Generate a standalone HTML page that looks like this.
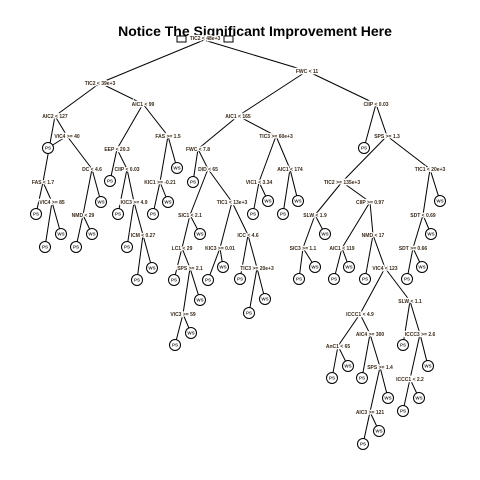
<!DOCTYPE html>
<html><head><meta charset="utf-8"><style>
html,body{margin:0;padding:0;background:#fff;width:480px;height:480px;overflow:hidden}
svg{display:block}
.l{stroke:#000;stroke-width:1;fill:none}
.t{font-family:"Liberation Sans",sans-serif;font-size:5px;font-weight:bold;fill:#3a2a1a;text-anchor:middle;stroke:#fff;stroke-width:2.5px;paint-order:stroke}
.c{fill:#fff;stroke:#000;stroke-width:1}
.lt{font-family:"Liberation Sans",sans-serif;font-size:4.5px;font-weight:bold;fill:#333;text-anchor:middle}
</style></head><body>
<svg width="480" height="480" viewBox="0 0 480 480" xmlns="http://www.w3.org/2000/svg">
<g class="l">
<line x1="204" y1="40" x2="100" y2="83"/><line x1="204" y1="40" x2="307" y2="71"/>
<line x1="100" y1="83" x2="55" y2="116"/><line x1="100" y1="83" x2="143" y2="104"/>
<line x1="55" y1="116" x2="43" y2="182"/><line x1="55" y1="116" x2="67" y2="136"/>
<line x1="43" y1="182" x2="36" y2="214"/><line x1="43" y1="182" x2="52" y2="202"/>
<line x1="52" y1="202" x2="45" y2="247"/><line x1="52" y1="202" x2="61" y2="234"/>
<line x1="67" y1="136" x2="48" y2="148"/><line x1="67" y1="136" x2="92" y2="169"/>
<line x1="92" y1="169" x2="83" y2="215"/><line x1="92" y1="169" x2="101" y2="202"/>
<line x1="83" y1="215" x2="76" y2="247"/><line x1="83" y1="215" x2="92" y2="234"/>
<line x1="143" y1="104" x2="117" y2="149"/><line x1="143" y1="104" x2="168" y2="136"/>
<line x1="117" y1="149" x2="110" y2="181"/><line x1="117" y1="149" x2="127" y2="169"/>
<line x1="127" y1="169" x2="118" y2="214"/><line x1="127" y1="169" x2="134" y2="202"/>
<line x1="134" y1="202" x2="127" y2="247"/><line x1="134" y1="202" x2="143" y2="235"/>
<line x1="143" y1="235" x2="137" y2="280"/><line x1="143" y1="235" x2="152" y2="268"/>
<line x1="168" y1="136" x2="160" y2="182"/><line x1="168" y1="136" x2="177" y2="168"/>
<line x1="160" y1="182" x2="153" y2="214"/><line x1="160" y1="182" x2="168" y2="202"/>
<line x1="307" y1="71" x2="238" y2="116"/><line x1="307" y1="71" x2="376" y2="104"/>
<line x1="238" y1="116" x2="198" y2="149"/><line x1="238" y1="116" x2="276" y2="136"/>
<line x1="198" y1="149" x2="193" y2="182"/><line x1="198" y1="149" x2="208" y2="169"/>
<line x1="208" y1="169" x2="190" y2="215"/><line x1="208" y1="169" x2="232" y2="202"/>
<line x1="190" y1="215" x2="182" y2="248"/><line x1="190" y1="215" x2="200" y2="234"/>
<line x1="182" y1="248" x2="174" y2="280"/><line x1="182" y1="248" x2="190" y2="268"/>
<line x1="190" y1="268" x2="183" y2="314"/><line x1="190" y1="268" x2="200" y2="300"/>
<line x1="183" y1="314" x2="175" y2="345"/><line x1="183" y1="314" x2="191" y2="333"/>
<line x1="232" y1="202" x2="220" y2="248"/><line x1="232" y1="202" x2="248" y2="235"/>
<line x1="220" y1="248" x2="208" y2="280"/><line x1="220" y1="248" x2="223" y2="267"/>
<line x1="248" y1="235" x2="240" y2="279"/><line x1="248" y1="235" x2="257" y2="268"/>
<line x1="257" y1="268" x2="249" y2="313"/><line x1="257" y1="268" x2="265" y2="299"/>
<line x1="276" y1="136" x2="259" y2="182"/><line x1="276" y1="136" x2="290" y2="169"/>
<line x1="259" y1="182" x2="253" y2="214"/><line x1="259" y1="182" x2="268" y2="201"/>
<line x1="290" y1="169" x2="283" y2="214"/><line x1="290" y1="169" x2="298" y2="201"/>
<line x1="376" y1="104" x2="364" y2="148"/><line x1="376" y1="104" x2="387" y2="136"/>
<line x1="387" y1="136" x2="342" y2="182"/><line x1="387" y1="136" x2="430" y2="169"/>
<line x1="342" y1="182" x2="315" y2="215"/><line x1="342" y1="182" x2="370" y2="202"/>
<line x1="315" y1="215" x2="303" y2="248"/><line x1="315" y1="215" x2="325" y2="234"/>
<line x1="303" y1="248" x2="299" y2="279"/><line x1="303" y1="248" x2="315" y2="267"/>
<line x1="370" y1="202" x2="342" y2="248"/><line x1="370" y1="202" x2="373" y2="235"/>
<line x1="342" y1="248" x2="334" y2="279"/><line x1="342" y1="248" x2="349" y2="267"/>
<line x1="373" y1="235" x2="365" y2="279"/><line x1="373" y1="235" x2="385" y2="268"/>
<line x1="385" y1="268" x2="360" y2="314"/><line x1="385" y1="268" x2="410" y2="301"/>
<line x1="360" y1="314" x2="338" y2="346"/><line x1="360" y1="314" x2="370" y2="334"/>
<line x1="338" y1="346" x2="332" y2="378"/><line x1="338" y1="346" x2="348" y2="366"/>
<line x1="370" y1="334" x2="362" y2="378"/><line x1="370" y1="334" x2="380" y2="367"/>
<line x1="380" y1="367" x2="370" y2="412"/><line x1="380" y1="367" x2="388" y2="398"/>
<line x1="370" y1="412" x2="363" y2="444"/><line x1="370" y1="412" x2="379" y2="431"/>
<line x1="410" y1="301" x2="403" y2="345"/><line x1="410" y1="301" x2="420" y2="334"/>
<line x1="420" y1="334" x2="410" y2="379"/><line x1="420" y1="334" x2="428" y2="366"/>
<line x1="410" y1="379" x2="403" y2="411"/><line x1="410" y1="379" x2="419" y2="398"/>
<line x1="430" y1="169" x2="423" y2="215"/><line x1="430" y1="169" x2="440" y2="201"/>
<line x1="423" y1="215" x2="413" y2="248"/><line x1="423" y1="215" x2="431" y2="234"/>
<line x1="413" y1="248" x2="407" y2="279"/><line x1="413" y1="248" x2="422" y2="267"/>
</g>
<text x="255" y="36" font-family="Liberation Sans, sans-serif" font-size="14" font-weight="bold" text-anchor="middle" fill="#000">Notice The Significant Improvement Here</text>
<rect x="177" y="36" width="9" height="6" fill="#fff" stroke="#000"/>
<rect x="224" y="36" width="9" height="6" fill="#fff" stroke="#000"/>
<g class="t">
<text x="205" y="40">TIC2 &lt; 48e+3</text>
<text x="100" y="85">TIC2 &lt; 39e+3</text>
<text x="55" y="118">AIC2 &lt; 127</text>
<text x="43" y="184">FAS &lt; 1.7</text>
<text x="52" y="204">VIC4 &gt;= 85</text>
<text x="67" y="138">VIC4 &gt;= 40</text>
<text x="92" y="171">DC &lt; 4.6</text>
<text x="83" y="217">NMD &lt; 29</text>
<text x="143" y="106">AIC1 &lt; 99</text>
<text x="117" y="151">EEP &lt; 20.3</text>
<text x="127" y="171">CIIP &lt; 0.03</text>
<text x="134" y="204">KIC3 &gt;= 4.9</text>
<text x="143" y="237">ICM &lt; 0.27</text>
<text x="168" y="138">FAS &gt;= 1.5</text>
<text x="160" y="184">KIC1 &gt;= -0.21</text>
<text x="307" y="73">FWC &lt; 11</text>
<text x="238" y="118">AIC1 &lt; 165</text>
<text x="198" y="151">FWC &lt; 7.8</text>
<text x="208" y="171">DID &lt; 65</text>
<text x="190" y="217">SIC1 &lt; 2.1</text>
<text x="182" y="250">LC1 &lt; 29</text>
<text x="190" y="270">SPS &gt;= 2.1</text>
<text x="183" y="316">VIC3 &gt;= 59</text>
<text x="232" y="204">TIC1 &lt; 13e+3</text>
<text x="220" y="250">KIC3 &gt;= 0.01</text>
<text x="248" y="237">ICC &lt; 4.6</text>
<text x="257" y="270">TIC3 &gt;= 20e+3</text>
<text x="276" y="138">TIC3 &gt;= 60e+3</text>
<text x="259" y="184">VIC1 &lt; 3.34</text>
<text x="290" y="171">AIC1 &lt; 174</text>
<text x="376" y="106">CIIP &lt; 0.03</text>
<text x="387" y="138">SPS &gt;= 1.3</text>
<text x="342" y="184">TIC2 &gt;= 135e+3</text>
<text x="315" y="217">SLW &lt; 1.9</text>
<text x="303" y="250">SIC3 &gt;= 1.1</text>
<text x="370" y="204">CIIP &gt;= 0.97</text>
<text x="342" y="250">AIC1 &lt; 119</text>
<text x="373" y="237">NMD &lt; 17</text>
<text x="385" y="270">VIC4 &lt; 123</text>
<text x="360" y="316">ICCC1 &lt; 4.9</text>
<text x="338" y="348">AnC1 &lt; 65</text>
<text x="370" y="336">AIC4 &gt;= 300</text>
<text x="380" y="369">SPS &gt;= 1.4</text>
<text x="370" y="414">AIC3 &gt;= 121</text>
<text x="410" y="303">SLW &lt; 1.1</text>
<text x="420" y="336">ICCC3 &gt;= 2.6</text>
<text x="410" y="381">ICCC1 &lt; 2.2</text>
<text x="430" y="171">TIC1 &lt; 20e+3</text>
<text x="423" y="217">SDT &lt; 0.69</text>
<text x="413" y="250">SDT &gt;= 0.66</text>
</g>
<g>
<circle class="c" cx="36" cy="214" r="5.5"/><text class="lt" x="36" y="215.6">PS</text>
<circle class="c" cx="45" cy="247" r="5.5"/><text class="lt" x="45" y="248.6">PS</text>
<circle class="c" cx="61" cy="234" r="5.5"/><text class="lt" x="61" y="235.6">WS</text>
<circle class="c" cx="48" cy="148" r="5.5"/><text class="lt" x="48" y="149.6">PS</text>
<circle class="c" cx="101" cy="202" r="5.5"/><text class="lt" x="101" y="203.6">WS</text>
<circle class="c" cx="76" cy="247" r="5.5"/><text class="lt" x="76" y="248.6">PS</text>
<circle class="c" cx="92" cy="234" r="5.5"/><text class="lt" x="92" y="235.6">WS</text>
<circle class="c" cx="110" cy="181" r="5.5"/><text class="lt" x="110" y="182.6">PS</text>
<circle class="c" cx="118" cy="214" r="5.5"/><text class="lt" x="118" y="215.6">PS</text>
<circle class="c" cx="127" cy="247" r="5.5"/><text class="lt" x="127" y="248.6">PS</text>
<circle class="c" cx="137" cy="280" r="5.5"/><text class="lt" x="137" y="281.6">PS</text>
<circle class="c" cx="152" cy="268" r="5.5"/><text class="lt" x="152" y="269.6">WS</text>
<circle class="c" cx="177" cy="168" r="5.5"/><text class="lt" x="177" y="169.6">WS</text>
<circle class="c" cx="153" cy="214" r="5.5"/><text class="lt" x="153" y="215.6">PS</text>
<circle class="c" cx="168" cy="202" r="5.5"/><text class="lt" x="168" y="203.6">WS</text>
<circle class="c" cx="193" cy="182" r="5.5"/><text class="lt" x="193" y="183.6">PS</text>
<circle class="c" cx="200" cy="234" r="5.5"/><text class="lt" x="200" y="235.6">WS</text>
<circle class="c" cx="174" cy="280" r="5.5"/><text class="lt" x="174" y="281.6">PS</text>
<circle class="c" cx="200" cy="300" r="5.5"/><text class="lt" x="200" y="301.6">WS</text>
<circle class="c" cx="175" cy="345" r="5.5"/><text class="lt" x="175" y="346.6">PS</text>
<circle class="c" cx="191" cy="333" r="5.5"/><text class="lt" x="191" y="334.6">WS</text>
<circle class="c" cx="208" cy="280" r="5.5"/><text class="lt" x="208" y="281.6">PS</text>
<circle class="c" cx="223" cy="267" r="5.5"/><text class="lt" x="223" y="268.6">WS</text>
<circle class="c" cx="240" cy="279" r="5.5"/><text class="lt" x="240" y="280.6">PS</text>
<circle class="c" cx="249" cy="313" r="5.5"/><text class="lt" x="249" y="314.6">PS</text>
<circle class="c" cx="265" cy="299" r="5.5"/><text class="lt" x="265" y="300.6">WS</text>
<circle class="c" cx="253" cy="214" r="5.5"/><text class="lt" x="253" y="215.6">PS</text>
<circle class="c" cx="268" cy="201" r="5.5"/><text class="lt" x="268" y="202.6">WS</text>
<circle class="c" cx="283" cy="214" r="5.5"/><text class="lt" x="283" y="215.6">PS</text>
<circle class="c" cx="298" cy="201" r="5.5"/><text class="lt" x="298" y="202.6">WS</text>
<circle class="c" cx="364" cy="148" r="5.5"/><text class="lt" x="364" y="149.6">PS</text>
<circle class="c" cx="325" cy="234" r="5.5"/><text class="lt" x="325" y="235.6">WS</text>
<circle class="c" cx="299" cy="279" r="5.5"/><text class="lt" x="299" y="280.6">PS</text>
<circle class="c" cx="315" cy="267" r="5.5"/><text class="lt" x="315" y="268.6">WS</text>
<circle class="c" cx="334" cy="279" r="5.5"/><text class="lt" x="334" y="280.6">PS</text>
<circle class="c" cx="349" cy="267" r="5.5"/><text class="lt" x="349" y="268.6">WS</text>
<circle class="c" cx="365" cy="279" r="5.5"/><text class="lt" x="365" y="280.6">PS</text>
<circle class="c" cx="332" cy="378" r="5.5"/><text class="lt" x="332" y="379.6">PS</text>
<circle class="c" cx="348" cy="366" r="5.5"/><text class="lt" x="348" y="367.6">WS</text>
<circle class="c" cx="362" cy="378" r="5.5"/><text class="lt" x="362" y="379.6">PS</text>
<circle class="c" cx="388" cy="398" r="5.5"/><text class="lt" x="388" y="399.6">WS</text>
<circle class="c" cx="363" cy="444" r="5.5"/><text class="lt" x="363" y="445.6">PS</text>
<circle class="c" cx="379" cy="431" r="5.5"/><text class="lt" x="379" y="432.6">WS</text>
<circle class="c" cx="403" cy="345" r="5.5"/><text class="lt" x="403" y="346.6">PS</text>
<circle class="c" cx="428" cy="366" r="5.5"/><text class="lt" x="428" y="367.6">WS</text>
<circle class="c" cx="403" cy="411" r="5.5"/><text class="lt" x="403" y="412.6">PS</text>
<circle class="c" cx="419" cy="398" r="5.5"/><text class="lt" x="419" y="399.6">WS</text>
<circle class="c" cx="440" cy="201" r="5.5"/><text class="lt" x="440" y="202.6">WS</text>
<circle class="c" cx="431" cy="234" r="5.5"/><text class="lt" x="431" y="235.6">WS</text>
<circle class="c" cx="407" cy="279" r="5.5"/><text class="lt" x="407" y="280.6">PS</text>
<circle class="c" cx="422" cy="267" r="5.5"/><text class="lt" x="422" y="268.6">WS</text>
</g>
</svg>
</body></html>
